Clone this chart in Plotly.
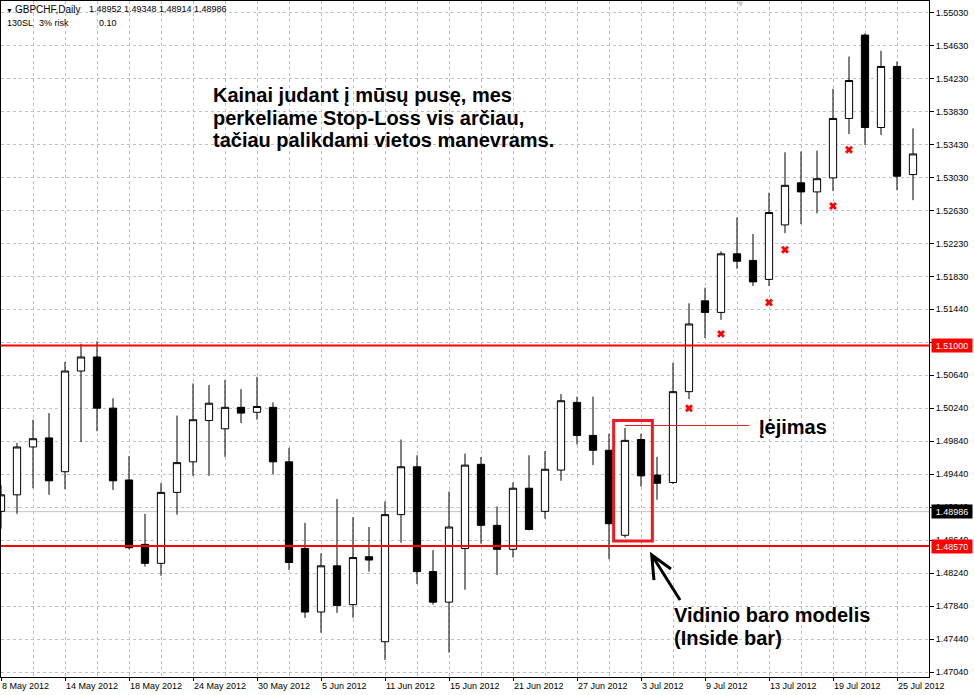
import plotly.graph_objects as go

# Prekybos dienos (GBPCHF, Daily)
dates = [
    "2012-05-08", "2012-05-09", "2012-05-10", "2012-05-11", "2012-05-14", "2012-05-15",
    "2012-05-16", "2012-05-17", "2012-05-18", "2012-05-21", "2012-05-22", "2012-05-23",
    "2012-05-24", "2012-05-25", "2012-05-28", "2012-05-29", "2012-05-30", "2012-05-31",
    "2012-06-01", "2012-06-04", "2012-06-05", "2012-06-06", "2012-06-07", "2012-06-08",
    "2012-06-11", "2012-06-12", "2012-06-13", "2012-06-14", "2012-06-15", "2012-06-18",
    "2012-06-19", "2012-06-20", "2012-06-21", "2012-06-22", "2012-06-25", "2012-06-26",
    "2012-06-27", "2012-06-28", "2012-06-29", "2012-07-02", "2012-07-03", "2012-07-04",
    "2012-07-05", "2012-07-06", "2012-07-09", "2012-07-10", "2012-07-11", "2012-07-12",
    "2012-07-13", "2012-07-16", "2012-07-17", "2012-07-18", "2012-07-19", "2012-07-20",
    "2012-07-23", "2012-07-24", "2012-07-25", "2012-07-26",
]
opens = [
    1.4899, 1.4919, 1.4977, 1.4988, 1.4947, 1.5069, 1.5086, 1.5024, 1.4937, 1.4859,
    1.4836, 1.4922, 1.4959, 1.5009, 1.4999, 1.5025, 1.5019, 1.5025, 1.4959, 1.4854,
    1.4777, 1.4833, 1.4786, 1.4844, 1.4741, 1.4895, 1.4953, 1.4826, 1.4789, 1.4854,
    1.4956, 1.4882, 1.4853, 1.4927, 1.4899, 1.4949, 1.5031, 1.4991, 1.4973, 1.4870,
    1.4986, 1.4943, 1.4934, 1.5044, 1.5154, 1.5140, 1.5211, 1.5203, 1.5180, 1.5246,
    1.5297, 1.5286, 1.5303, 1.5375, 1.5476, 1.5364, 1.5438, 1.5307,
]
highs = [
    1.4931, 1.4982, 1.5010, 1.5018, 1.5080, 1.5102, 1.5105, 1.5036, 1.4966, 1.4896,
    1.4933, 1.5015, 1.5054, 1.5052, 1.5058, 1.5047, 1.5062, 1.5031, 1.4976, 1.4885,
    1.4848, 1.4914, 1.4892, 1.4880, 1.4911, 1.4986, 1.4967, 1.4852, 1.4923, 1.4969,
    1.4965, 1.4905, 1.4934, 1.4967, 1.4972, 1.5041, 1.5038, 1.5038, 1.4993, 1.5000,
    1.4993, 1.4965, 1.5079, 1.5151, 1.5170, 1.5214, 1.5255, 1.5235, 1.5285, 1.5334,
    1.5335, 1.5336, 1.5411, 1.5450, 1.5478, 1.5457, 1.5444, 1.5363,
]
lows = [
    1.4878, 1.4896, 1.4927, 1.4919, 1.4926, 1.4983, 1.4996, 1.4925, 1.4853, 1.4832,
    1.4821, 1.4895, 1.4942, 1.4942, 1.4965, 1.5006, 1.5010, 1.4944, 1.4828, 1.4770,
    1.4752, 1.4776, 1.4770, 1.4826, 1.4719, 1.4861, 1.4811, 1.4786, 1.4728, 1.4804,
    1.4860, 1.4822, 1.4843, 1.4876, 1.4890, 1.4936, 1.4980, 1.4955, 1.4841, 1.4867,
    1.4929, 1.4913, 1.4932, 1.5035, 1.5109, 1.5131, 1.5193, 1.5172, 1.5172, 1.5236,
    1.5247, 1.5260, 1.5287, 1.5356, 1.5343, 1.5355, 1.5288, 1.5276,
]
closes = [
    1.4919, 1.4977, 1.4987, 1.4936, 1.5069, 1.5086, 1.5024, 1.4936, 1.4855, 1.4836,
    1.4922, 1.4958, 1.5010, 1.5030, 1.5025, 1.5018, 1.5026, 1.4959, 1.4837, 1.4777,
    1.4833, 1.4785, 1.4843, 1.4840, 1.4895, 1.4953, 1.4826, 1.4789, 1.4880, 1.4955,
    1.4882, 1.4853, 1.4927, 1.4877, 1.4950, 1.5033, 1.4991, 1.4973, 1.4884, 1.4985,
    1.4942, 1.4933, 1.5044, 1.5126, 1.5140, 1.5211, 1.5202, 1.5177, 1.5261, 1.5294,
    1.5286, 1.5302, 1.5375, 1.5421, 1.5364, 1.5438, 1.5305, 1.5332,
]

x_labels = [
    "8 May 2012", "14 May 2012", "18 May 2012", "24 May 2012", "30 May 2012",
    "5 Jun 2012", "11 Jun 2012", "15 Jun 2012", "21 Jun 2012", "27 Jun 2012",
    "3 Jul 2012", "9 Jul 2012", "13 Jul 2012", "19 Jul 2012", "25 Jul 2012",
]
y_ticks = [
    1.47040, 1.47440, 1.47840, 1.48240, 1.48640, 1.49040, 1.49440, 1.49840, 1.50240,
    1.50640, 1.51040, 1.51440, 1.51830, 1.52230, 1.52630, 1.53030, 1.53430, 1.53830,
    1.54230, 1.54630, 1.55030,
]

# Stop-Loss perkelimo taskai
stop_dates = ["2012-07-06", "2012-07-10", "2012-07-13", "2012-07-16", "2012-07-19", "2012-07-20"]
stop_prices = [1.5024, 1.5114, 1.5152, 1.5216, 1.5269, 1.5337]

red_levels = [1.51000, 1.48570]
bid_price = 1.48986
entry_price = 1.5003
mother_bar = "2012-07-02"
inside_bar = "2012-07-03"

header_quote = ["1.48952", "1.49348", "1.48914", "1.48986"]

GRID = "#c0c0c0"
RED = "#ff0000"
PAINT_RED = "#ed1c24"
FONT = "Liberation Sans, Arial, sans-serif"

x = list(range(len(dates)))
pos = {d: i for i, d in enumerate(dates)}

fig = go.Figure()

fig.add_trace(go.Candlestick(
    x=x, open=opens, high=highs, low=lows, close=closes,
    increasing=dict(line=dict(color="black", width=1), fillcolor="white"),
    decreasing=dict(line=dict(color="black", width=1), fillcolor="black"),
    whiskerwidth=0,
    hoverinfo="skip",
))

fig.add_trace(go.Scatter(
    x=[pos[d] for d in stop_dates], y=stop_prices, mode="markers",
    marker=dict(symbol="x", size=7, color=RED, line=dict(width=0)),
    hoverinfo="skip",
))

# bid linija (po zvakemis)
fig.add_shape(type="line", xref="paper", x0=0, x1=1, yref="y", y0=bid_price, y1=bid_price,
              line=dict(color=GRID, width=1), layer="between")

# raudoni lygiai
for lvl in red_levels:
    fig.add_shape(type="line", xref="paper", x0=0, x1=1, yref="y", y0=lvl, y1=lvl,
                  line=dict(color=RED, width=2))

# vidinio baro remelis
mi, ii = pos[mother_bar], pos[inside_bar]
fig.add_shape(type="rect", xref="x", yref="y",
              x0=mi - 0.71, x1=ii + 0.71,
              y0=lows[mi] - 0.0004, y1=highs[mi] + 0.0009,
              line=dict(color=PAINT_RED, width=3))

# iejimo linija
fig.add_shape(type="line", xref="x", yref="y", x0=mi, x1=46.75,
              y0=entry_price, y1=entry_price, line=dict(color=PAINT_RED, width=1))

# rodykle
fig.add_shape(type="path", xref="x", yref="y",
              path="M 42.44,1.47916 L 40.67,1.48461 M 40.81,1.48158 L 40.67,1.48461 L 41.875,1.48291",
              line=dict(color="black", width=3))

# kainu etiketes desineje
for price, bg in [(red_levels[0], RED), (red_levels[1], RED), (bid_price, "black")]:
    fig.add_annotation(xref="paper", x=1, xanchor="left", xshift=2, yref="y", y=price,
                       text=f"{price:.5f}", showarrow=False, bgcolor=bg,
                       font=dict(family=FONT, size=9, color="white"),
                       width=38, height=11, borderpad=1)


# antraste virsuje kaireje
def px_x(px):
    return (px - 1) / 928


def px_y(py):
    return (677 - py) / 676


fig.add_annotation(xref="paper", yref="paper", x=px_x(4), y=px_y(10), xanchor="left",
                   yanchor="middle", text="▼", showarrow=False,
                   font=dict(family=FONT, size=7, color="black"))
header_items = [("GBPCHF,Daily", 12.7, 10)] + [(q, p, 9) for q, p in zip(header_quote, [87.3, 122, 157.3, 192.3])]
for txt, px, fs in header_items:
    fig.add_annotation(xref="paper", yref="paper", x=px_x(px), y=px_y(9.5), xanchor="left",
                       yanchor="middle", text=txt, showarrow=False,
                       font=dict(family=FONT, size=fs, color="black"))
for txt, px in [("130SL", 5), ("3% risk", 37), ("0.10", 97)]:
    fig.add_annotation(xref="paper", yref="paper", x=px_x(px), y=px_y(23), xanchor="left",
                       yanchor="middle", text=txt, showarrow=False,
                       font=dict(family=FONT, size=9, color="black"))
fig.add_annotation(xref="paper", yref="paper", x=px_x(740), y=px_y(4), xanchor="center",
                   yanchor="middle", text="▼", showarrow=False,
                   font=dict(family=FONT, size=9, color="#c8c8c8"))

# tekstai
text_lines = [
    ("Kainai judant į mūsų pusę, mes", 211, 95.2),
    ("perkeliame Stop-Loss vis arčiau,", 211, 117.7),
    ("tačiau palikdami vietos manevrams.", 211, 140.2),
    ("Įėjimas", 757, 426.5),
    ("Vidinio baro modelis", 672, 615),
    ("(Inside bar)", 672, 637.5),
]
for txt, px, py in text_lines:
    fig.add_annotation(xref="paper", yref="paper", x=px_x(px), y=px_y(py), xanchor="left",
                       yanchor="middle", text=f"<b>{txt}</b>", showarrow=False,
                       font=dict(family=FONT, size=20, color="black"))

fig.update_layout(
    width=974, height=695,
    margin=dict(l=1, r=45, t=1, b=18),
    paper_bgcolor="white", plot_bgcolor="white",
    showlegend=False, boxgap=0.35,
    font=dict(family=FONT, size=9, color="black"),
    xaxis=dict(
        range=[0, 58], rangeslider=dict(visible=False),
        tickmode="array", tickvals=x[::4], ticktext=x_labels,
        ticks="outside", ticklen=3, tickcolor="black",
        ticklabelposition="outside right",
        tickfont=dict(family=FONT, size=9, color="black"),
        showgrid=True, gridcolor=GRID, griddash="3px,3px", gridwidth=1,
        minor=dict(tick0=0, dtick=2, showgrid=True, gridcolor=GRID,
                   griddash="3px,3px", ticks=""),
        showline=True, mirror=True, linecolor="black", linewidth=1, zeroline=False,
    ),
    yaxis=dict(
        range=[1.46983, 1.55173], side="right",
        tickmode="array", tickvals=y_ticks, ticktext=[f"{v:.5f}" for v in y_ticks],
        ticks="outside", ticklen=4, tickcolor="black",
        tickfont=dict(family=FONT, size=9, color="black"),
        showgrid=True, gridcolor=GRID, griddash="3px,3px", gridwidth=1,
        showline=True, mirror=True, linecolor="black", linewidth=1, zeroline=False,
    ),
)

fig.write_html(
    "out.html",
    config={"displayModeBar": False},
    post_script="document.body.style.margin='0';document.body.style.overflow='hidden';",
)
